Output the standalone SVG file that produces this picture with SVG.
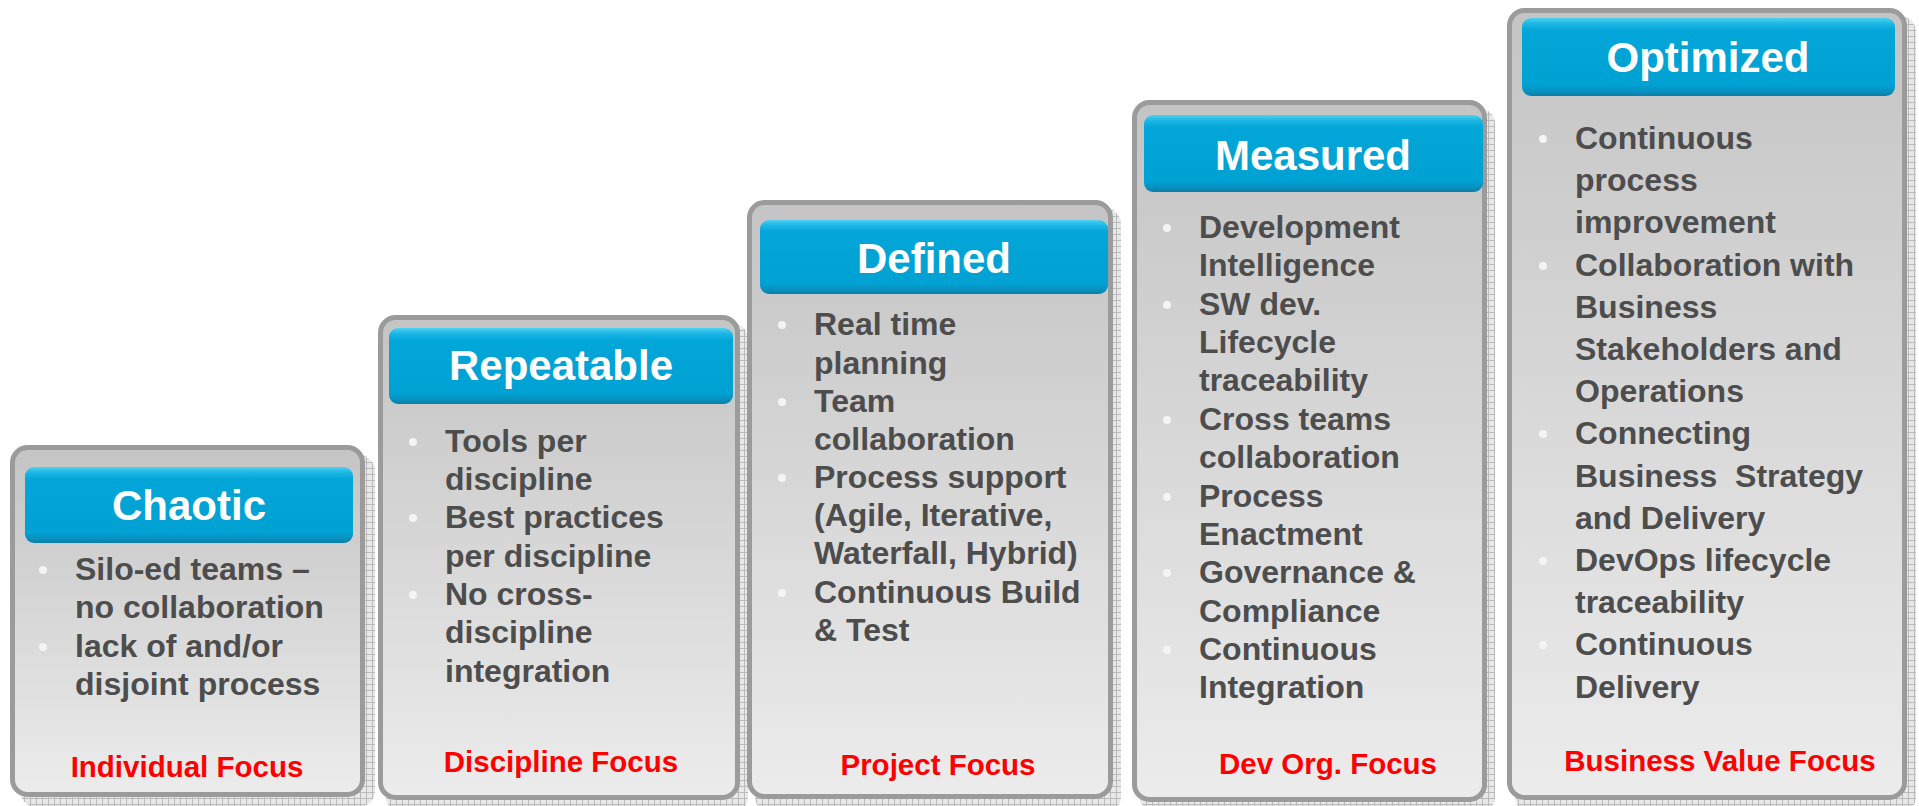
<svg xmlns="http://www.w3.org/2000/svg" width="1919" height="806" viewBox="0 0 1919 806">
  <defs>
    <linearGradient id="boxFill" x1="0" y1="0" x2="0" y2="1">
      <stop offset="0" stop-color="#c4c4c4"/>
      <stop offset="1" stop-color="#ececec"/>
    </linearGradient>
    <linearGradient id="hdrFill" x1="0" y1="0" x2="0" y2="1">
      <stop offset="0" stop-color="#4fd0f2"/>
      <stop offset="0.07" stop-color="#1db8e6"/>
      <stop offset="0.16" stop-color="#03a6d8"/>
      <stop offset="0.86" stop-color="#00a1d3"/>
      <stop offset="0.94" stop-color="#0891bf"/>
      <stop offset="1" stop-color="#0a7fa8"/>
    </linearGradient>
    <pattern id="grid" width="6" height="6" patternUnits="userSpaceOnUse">
      <rect width="6" height="6" fill="#e8e8e8"/>
      <path d="M0 0.5H6M0.5 0V6" stroke="#bababa" stroke-width="1"/>
    </pattern>
  </defs>
  <style>
    .shadow { fill: url(#grid); }
    .box { fill: url(#boxFill); stroke: #9b9b9b; stroke-width: 5; }
    .hdr { fill: url(#hdrFill); }
    .title { font-family: "Liberation Sans", Arial, sans-serif; font-weight: bold; font-size: 42px; fill: #ffffff; text-anchor: middle; }
    .body { font-family: "Liberation Sans", Arial, sans-serif; font-weight: bold; font-size: 32px; fill: #4d4d4d; }
    .focus { font-family: "Liberation Sans", Arial, sans-serif; font-weight: bold; font-size: 29.5px; fill: #ff0000; text-anchor: middle; }
    .dot { fill: #f4f4f4; }
  </style>
  <rect width="1919" height="806" fill="#ffffff"/>

  <g id="chaotic">
    <rect class="shadow" x="20" y="455" width="355" height="352" rx="16"/>
    <rect class="box" x="12.5" y="447.5" width="350" height="347" rx="15"/>
    <rect class="hdr" x="25" y="467" width="328" height="76" rx="9"/>
    <text class="title" x="189" y="520">Chaotic</text>
    <circle class="dot" cx="43" cy="570" r="4"/>
    <circle class="dot" cx="43" cy="647" r="4"/>
    <text class="body" x="75" y="580">Silo-ed teams –</text>
    <text class="body" x="75" y="618">no collaboration</text>
    <text class="body" x="75" y="657">lack of and/or</text>
    <text class="body" x="75" y="695">disjoint process</text>
    <text class="focus" x="187" y="777">Individual Focus</text>
  </g>

  <g id="repeatable">
    <rect class="shadow" x="386" y="323" width="362" height="490" rx="16"/>
    <rect class="box" x="380.5" y="317.5" width="357" height="480" rx="15"/>
    <rect class="hdr" x="389" y="328" width="344" height="76" rx="9"/>
    <text class="title" x="561" y="380">Repeatable</text>
    <circle class="dot" cx="413" cy="442" r="4"/>
    <circle class="dot" cx="413" cy="518" r="4"/>
    <circle class="dot" cx="413" cy="595" r="4"/>
    <text class="body" x="445" y="452">Tools per</text>
    <text class="body" x="445" y="490">discipline</text>
    <text class="body" x="445" y="528">Best practices</text>
    <text class="body" x="445" y="567">per discipline</text>
    <text class="body" x="445" y="605">No cross-</text>
    <text class="body" x="445" y="643">discipline</text>
    <text class="body" x="445" y="682">integration</text>
    <text class="focus" x="561" y="772">Discipline Focus</text>
  </g>

  <g id="defined">
    <rect class="shadow" x="755" y="208" width="366" height="605" rx="16"/>
    <rect class="box" x="749.5" y="202.5" width="361" height="594" rx="15"/>
    <rect class="hdr" x="760" y="220" width="348" height="74" rx="9"/>
    <text class="title" x="934" y="273">Defined</text>
    <circle class="dot" cx="782" cy="325" r="4"/>
    <circle class="dot" cx="782" cy="402" r="4"/>
    <circle class="dot" cx="782" cy="478" r="4"/>
    <circle class="dot" cx="782" cy="593" r="4"/>
    <text class="body" x="814" y="335">Real time</text>
    <text class="body" x="814" y="374">planning</text>
    <text class="body" x="814" y="412">Team</text>
    <text class="body" x="814" y="450">collaboration</text>
    <text class="body" x="814" y="488">Process support</text>
    <text class="body" x="814" y="526">(Agile, Iterative,</text>
    <text class="body" x="814" y="564">Waterfall, Hybrid)</text>
    <text class="body" x="814" y="603">Continuous Build</text>
    <text class="body" x="814" y="641">&amp; Test</text>
    <text class="focus" x="938" y="775">Project Focus</text>
  </g>

  <g id="measured">
    <rect class="shadow" x="1140" y="108" width="355" height="705" rx="16"/>
    <rect class="box" x="1134.5" y="102.5" width="350" height="697" rx="15"/>
    <rect class="hdr" x="1144" y="115" width="339" height="77" rx="9"/>
    <text class="title" x="1313" y="170">Measured</text>
    <circle class="dot" cx="1167" cy="228" r="4"/>
    <circle class="dot" cx="1167" cy="305" r="4"/>
    <circle class="dot" cx="1167" cy="420" r="4"/>
    <circle class="dot" cx="1167" cy="497" r="4"/>
    <circle class="dot" cx="1167" cy="573" r="4"/>
    <circle class="dot" cx="1167" cy="650" r="4"/>
    <text class="body" x="1199" y="238">Development</text>
    <text class="body" x="1199" y="276">Intelligence</text>
    <text class="body" x="1199" y="315">SW dev.</text>
    <text class="body" x="1199" y="353">Lifecycle</text>
    <text class="body" x="1199" y="391">traceability</text>
    <text class="body" x="1199" y="430">Cross teams</text>
    <text class="body" x="1199" y="468">collaboration</text>
    <text class="body" x="1199" y="507">Process</text>
    <text class="body" x="1199" y="545">Enactment</text>
    <text class="body" x="1199" y="583">Governance &amp;</text>
    <text class="body" x="1199" y="622">Compliance</text>
    <text class="body" x="1199" y="660">Continuous</text>
    <text class="body" x="1199" y="698">Integration</text>
    <text class="focus" x="1328" y="774">Dev Org. Focus</text>
  </g>

  <g id="optimized">
    <rect class="shadow" x="1515" y="16" width="401" height="797" rx="16"/>
    <rect class="box" x="1509.5" y="10.5" width="395" height="787" rx="15"/>
    <rect class="hdr" x="1522" y="18" width="373" height="78" rx="9"/>
    <text class="title" x="1708" y="72">Optimized</text>
    <circle class="dot" cx="1543" cy="139" r="4"/>
    <circle class="dot" cx="1543" cy="266" r="4"/>
    <circle class="dot" cx="1543" cy="434" r="4"/>
    <circle class="dot" cx="1543" cy="561" r="4"/>
    <circle class="dot" cx="1543" cy="645" r="4"/>
    <text class="body" x="1575" y="149">Continuous</text>
    <text class="body" x="1575" y="191">process</text>
    <text class="body" x="1575" y="233">improvement</text>
    <text class="body" x="1575" y="276">Collaboration with</text>
    <text class="body" x="1575" y="318">Business</text>
    <text class="body" x="1575" y="360">Stakeholders and</text>
    <text class="body" x="1575" y="402">Operations</text>
    <text class="body" x="1575" y="444">Connecting</text>
    <text class="body" x="1575" y="487">Business&#160; Strategy</text>
    <text class="body" x="1575" y="529">and Delivery</text>
    <text class="body" x="1575" y="571">DevOps lifecycle</text>
    <text class="body" x="1575" y="613">traceability</text>
    <text class="body" x="1575" y="655">Continuous</text>
    <text class="body" x="1575" y="698">Delivery</text>
    <text class="focus" x="1720" y="771">Business Value Focus</text>
  </g>

  <g id="connectors"/>
</svg>
